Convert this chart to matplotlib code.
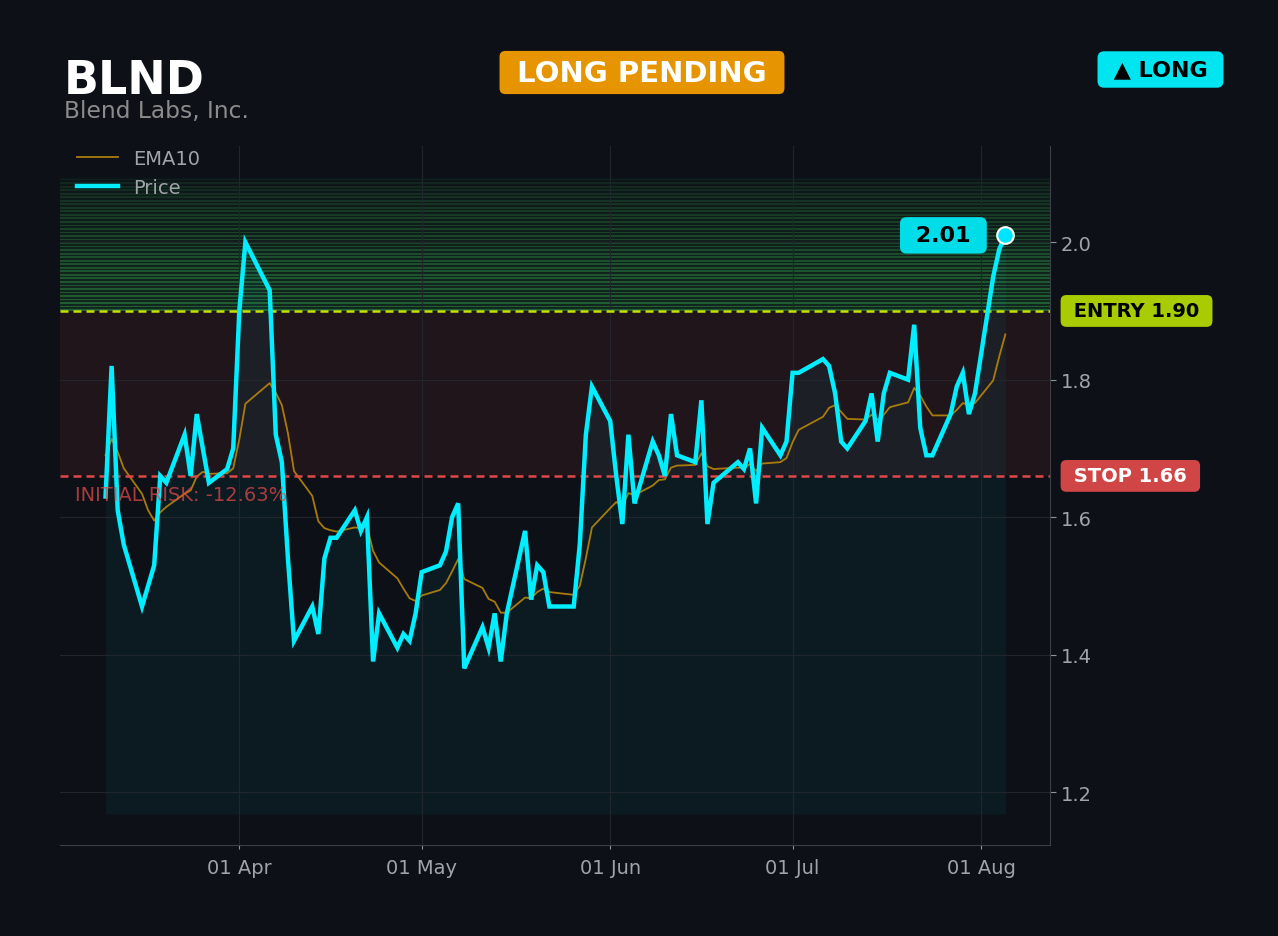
import matplotlib
matplotlib.use('Agg')
import matplotlib.pyplot as plt
import matplotlib.dates as mdates
import matplotlib.transforms as mtransforms
import pandas as pd

W, H = 1278, 937
BG = '#0d1117'

TICKER = 'BLND'
COMPANY = 'Blend Labs, Inc.'
STATUS = 'LONG PENDING'
SIDE = '\u25b2 LONG'
ENTRY = 1.90
STOP = 1.66
GREEN_TOP = 2.095
FILL_FLOOR = 1.168
HOLIDAYS = ['2026-04-03', '2026-05-25', '2026-06-19', '2026-07-03']

# closing prices, one per trading day (Mar 10 .. Aug 5)
price_mar = [1.63, 1.82, 1.61, 1.56, 1.47, 1.50, 1.53, 1.66, 1.65, 1.72, 1.66,
             1.75, 1.70, 1.65, 1.67, 1.70]
price_apr = [1.90, 2.00, 1.93, 1.72, 1.68, 1.54, 1.42, 1.47, 1.43, 1.54, 1.57,
             1.57, 1.61, 1.58, 1.60, 1.39, 1.46, 1.41, 1.43, 1.42, 1.46]
price_may = [1.52, 1.53, 1.55, 1.60, 1.62, 1.38, 1.44, 1.41, 1.46, 1.39, 1.46,
             1.58, 1.48, 1.53, 1.52, 1.47, 1.47, 1.56, 1.72, 1.79]
price_jun = [1.74, 1.66, 1.59, 1.72, 1.62, 1.71, 1.69, 1.66, 1.75, 1.69, 1.68,
             1.77, 1.59, 1.65, 1.68, 1.67, 1.70, 1.62, 1.73, 1.69, 1.71]
price_jul = [1.81, 1.81, 1.83, 1.82, 1.78, 1.71, 1.70, 1.74, 1.78, 1.71, 1.78,
             1.81, 1.80, 1.88, 1.73, 1.69, 1.69, 1.75, 1.79, 1.81, 1.75, 1.78]
price_aug = [1.95, 1.99, 2.01]

ema_mar = [1.690, 1.714, 1.695, 1.671, 1.634, 1.610, 1.595, 1.607, 1.615, 1.634,
           1.639, 1.659, 1.666, 1.663, 1.664, 1.671]
ema_apr = [1.713, 1.765, 1.795, 1.781, 1.763, 1.722, 1.667, 1.631, 1.594, 1.584,
           1.581, 1.579, 1.585, 1.584, 1.587, 1.551, 1.534, 1.511, 1.496, 1.482,
           1.478]
ema_may = [1.486, 1.494, 1.504, 1.521, 1.539, 1.510, 1.497, 1.481, 1.477, 1.461,
           1.461, 1.483, 1.482, 1.491, 1.496, 1.491, 1.487, 1.500, 1.540, 1.585]
ema_jun = [1.613, 1.622, 1.616, 1.635, 1.632, 1.646, 1.654, 1.655, 1.672, 1.675,
           1.676, 1.693, 1.674, 1.670, 1.672, 1.672, 1.677, 1.667, 1.678, 1.680,
           1.686]
ema_jul = [1.709, 1.727, 1.746, 1.759, 1.763, 1.753, 1.743, 1.742, 1.749, 1.742,
           1.749, 1.760, 1.767, 1.788, 1.777, 1.761, 1.748, 1.748, 1.756, 1.766,
           1.763, 1.766]
ema_aug = [1.799, 1.834, 1.866]

price = price_mar + price_apr + price_may + price_jun + price_jul + price_aug
ema10 = ema_mar + ema_apr + ema_may + ema_jun + ema_jul + ema_aug

dates = pd.bdate_range('2026-03-10', '2026-08-05')
dates = dates[~dates.isin(pd.to_datetime(HOLIDAYS))]
assert len(dates) == len(price) == len(ema10)

month_ticks = pd.to_datetime(['2026-04-01', '2026-05-01', '2026-06-01',
                              '2026-07-01', '2026-08-01'])
y_ticks = [1.2, 1.4, 1.6, 1.8, 2.0]


def px(x, y):
    return x / W, 1 - y / H


fig = plt.figure(figsize=(W / 100, H / 100), dpi=100, facecolor=BG)
ax = fig.add_axes([60 / W, 1 - 846 / H, 990 / W, 699 / H])
ax.set_facecolor(BG)

# zones
ax.axhspan(STOP, ENTRY, color='#e04848', alpha=0.085, lw=0, zorder=0.5)
n = 38
h = (GREEN_TOP - ENTRY) / n
for i in range(n):
    fade = (1 - i / n) ** 0.7
    lo = ENTRY + i * h
    ax.axhspan(lo, lo + h, color='#2ea043', alpha=0.14 * fade + 0.015,
               lw=0, zorder=0.5)
    ax.axhspan(lo, lo + 0.5 * h, color='#3cc85a', alpha=0.30 * fade + 0.06,
               lw=0, zorder=0.5)

ax.fill_between(dates, price, FILL_FLOOR, color='#00e5ff', alpha=0.05,
                lw=0, zorder=1)
ax.plot(dates, ema10, color='#b8860b', lw=1.3, alpha=0.9, label='EMA10',
        zorder=3)
ax.plot(dates, price, color='#00eeff', lw=3.2, label='Price', zorder=4,
        solid_joinstyle='miter')
ax.plot(dates[-1], price[-1], 'o', ms=12, mfc='#00e5ff', mec='white',
        mew=1.5, zorder=6)

ax.axhline(ENTRY, color='#c5e000', lw=1.8, ls=(0, (3.2, 2)), zorder=3)
ax.axhline(STOP, color='#e04848', lw=1.8, ls=(0, (3.2, 2)), zorder=3)

# axes setup
start = pd.Timestamp('2026-04-01')
ax.set_xlim(mdates.date2num(start - pd.Timedelta(days=29.49)),
            mdates.date2num(start + pd.Timedelta(days=133.34)))
ax.set_ylim(1.123, 2.14)
ax.set_xticks(month_ticks)
ax.xaxis.set_major_formatter(mdates.DateFormatter('%d %b'))
ax.set_yticks(y_ticks)
ax.set_yticklabels([f'{v:.1f}' for v in y_ticks])
ax.yaxis.tick_right()
ax.grid(True, color='#21262d', lw=0.8)
for side in ['left', 'top']:
    ax.spines[side].set_visible(False)
for side in ['right', 'bottom']:
    ax.spines[side].set_color('#3c4046')
ax.tick_params(axis='y', colors='#8b949e', labelcolor='#a0a4a8',
               labelsize=14, length=4.3, pad=3.6)
ax.tick_params(axis='x', colors='#8b949e', labelcolor='#a0a4a8',
               labelsize=14, length=3.1, pad=6.5)

leg = ax.legend(loc='upper left', bbox_to_anchor=(17 / 990, 1 - 3 / 699),
                frameon=False, fontsize=14, labelcolor='#a0a4a8',
                handlelength=2.1, handletextpad=0.8, labelspacing=0.52,
                borderpad=0, borderaxespad=0)

# level labels right of axes
trans = mtransforms.blended_transform_factory(ax.transAxes, ax.transData)
ax.text(1.0172, ENTRY, f' ENTRY {ENTRY:.2f} ', transform=trans, ha='left',
        va='center', fontsize=14, fontweight='bold', color='black',
        clip_on=False,
        bbox=dict(boxstyle='round,pad=0.33,rounding_size=0.3',
                  fc='#a8cc00', ec='none'))
ax.text(1.0172, STOP, f' STOP {STOP:.2f} ', transform=trans, ha='left',
        va='center', fontsize=14, fontweight='bold', color='white',
        clip_on=False,
        bbox=dict(boxstyle='round,pad=0.33,rounding_size=0.3',
                  fc='#d04545', ec='none'))

risk = (STOP - ENTRY) / ENTRY * 100
ax.text(15 / 990, 1.6247, f'INITIAL RISK: {risk:.2f}%', transform=trans,
        ha='left', va='baseline', fontsize=14, color='#e04848', alpha=0.75,
        zorder=5)

ax.annotate(f' {price[-1]:.2f} ', xy=(dates[-1], price[-1]),
            xytext=(-62, 0), textcoords='offset pixels', ha='center',
            va='center', fontsize=16, fontweight='bold', color='black',
            zorder=7,
            bbox=dict(boxstyle='round,pad=0.37,rounding_size=0.3',
                      fc='#00dce8', ec='none'))

# header
fig.text(*px(64, 94), TICKER, ha='left', va='baseline', fontsize=33,
         fontweight='bold', color='white')
fig.text(*px(64.4, 118), COMPANY, ha='left', va='baseline', fontsize=16.8,
         color='#8b8b8b')
fig.text(*px(642, 73.5), f' {STATUS} ', ha='center', va='center',
         fontsize=21, fontweight='bold', color='white',
         bbox=dict(boxstyle='round,pad=0.26,rounding_size=0.2',
                   fc='#e69500', ec='none'))
fig.text(*px(1160.5, 70.5), f' {SIDE} ', ha='center', va='center',
         fontsize=16, fontweight='bold', color='black',
         bbox=dict(boxstyle='round,pad=0.37,rounding_size=0.3',
                   fc='#00e5f0', ec='none'))

fig.savefig('out.png', dpi=100, facecolor=BG)
